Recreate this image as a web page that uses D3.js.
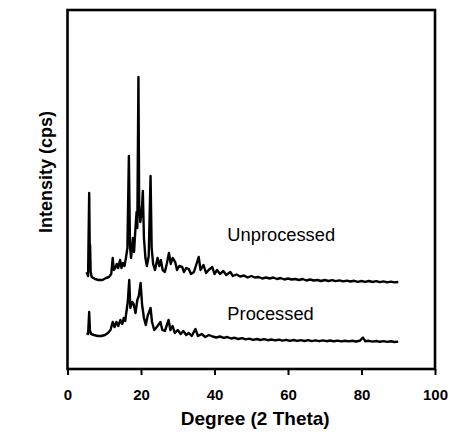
<!DOCTYPE html>
<html>
<head>
<meta charset="utf-8">
<script src="https://cdn.jsdelivr.net/npm/d3@7"></script>
<style>
  html, body { margin: 0; padding: 0; background: #fff; }
  svg { display: block; font-family: "Liberation Sans", Arial, sans-serif; }
</style>
</head>
<body>
<svg id="chart" width="451" height="438"></svg>
<script>
// ---- data (2θ in degrees, intensity in cps, offset traces) ----
const unprocessedTheta = [5.2,5.6,5.9,6.1,6.15,6.3,6.6,7.5,8.5,9.5,10.5,11.3,11.9,12.3,12.6,13.0,13.4,13.8,14.3,14.7,15.1,15.5,15.9,16.3,16.7,17.0,17.3,17.8,18.1,18.5,18.8,19.0,19.3,19.5,19.8,20.2,20.5,20.8,21.2,21.6,22.1,22.6,22.9,23.3,23.8,24.5,25.0,25.4,25.9,26.5,27.0,27.6,28.1,28.6,29.3,29.8,30.4,31.2,31.7,32.3,33.0,33.6,34.4,35.7,36.2,37.0,37.7,38.4,39.4,40.0,40.7,41.5,42.4,43.2,44.3,45,46,47,48,49,50,51,52,53,54,55,56,57,58,59,60,61,62,63,64,65,66,67,68,69,70,71,72,73,74,75,76,77,78,79,80,81,82,83,84,85,86,87,88,89,90];
const unprocessedCps   = [970,930,1760,1010,1240,970,920,900,890,890,910,920,950,1110,990,1010,1050,1010,1090,1010,1060,1030,1110,1210,2130,1230,1110,1310,1170,1410,1570,1410,2920,1640,1470,1570,1780,1310,1110,1030,1130,1930,1210,1050,990,1110,1030,1090,990,970,1050,1160,1050,1110,1070,990,1030,1020,970,1010,1000,950,970,1120,990,1040,960,990,1020,950,990,950,980,940,970,930,945,925,935,915,930,915,920,905,915,905,915,900,910,895,905,895,900,890,900,885,895,885,890,880,890,880,888,878,886,876,884,875,882,872,880,872,880,870,878,868,876,866,874,866,870];

const processedTheta = [5.2,5.6,5.9,6.1,6.4,7.2,8.2,9.2,10.2,11.0,11.7,12.3,12.8,13.3,13.8,14.4,14.9,15.3,15.7,16.1,16.4,16.8,17.1,17.6,18.0,18.5,19.0,19.4,19.9,20.3,20.8,21.3,21.8,22.6,23.0,23.6,24.3,25.3,25.8,26.5,27.5,28.0,28.6,29.2,30.0,30.8,31.5,32.3,33.0,33.8,34.8,35.5,36.5,37.5,38.5,39.5,40.5,41.5,42.5,43.5,44.5,45.5,46.5,47.5,48.5,49.5,50.5,51.5,52.5,53.5,54.5,55.5,56.5,57.5,58.5,59.5,60.5,61.5,62.5,63.5,64.5,65.5,66.5,67.5,68.5,69.5,70.5,71.5,72.5,73.5,74.5,75.5,76.5,77.5,78.5,79.5,80.4,81,82,83,84,85,86,87,88,89,90];
const processedCps   = [360,350,570,390,350,340,330,330,340,360,390,470,420,470,430,490,450,510,480,590,670,890,610,670,650,560,690,730,860,640,510,440,530,610,470,390,420,470,390,380,490,390,430,360,390,350,380,340,360,330,400,330,350,320,340,325,315,325,312,320,305,312,300,308,296,304,292,300,290,298,288,295,286,293,284,292,282,290,281,289,280,288,279,287,278,286,278,285,277,284,276,283,276,282,275,282,315,278,282,274,280,272,279,271,277,270,274];

const xTicks = [0, 20, 40, 60, 80, 100];
const seriesNames = ["Unprocessed", "Processed"];
const labelTheta = [43.5, 43.5];
const labelCps = [1280, 490];

// ---- layout ----
const svg = d3.select("#chart");
const mLeft = 67.5, mRight = 435, mTop = 10, mBottom = 369;

const x = d3.scaleLinear().domain([0, 100]).range([mLeft, mRight]);
const y = d3.scaleLinear().domain([0, 3590]).range([mBottom, mTop]);

const line = d3.line().x(d => x(d[0])).y(d => y(d[1]));

const series = [
  d3.zip(unprocessedTheta, unprocessedCps),
  d3.zip(processedTheta, processedCps)
];

svg.selectAll("path.trace").data(series).join("path")
  .attr("class", "trace")
  .attr("d", line)
  .attr("fill", "none")
  .attr("stroke", "#000")
  .attr("stroke-width", 2.4)
  .attr("stroke-linejoin", "round");

// x axis
const xAxis = d3.axisBottom(x).tickValues(xTicks).tickSize(6).tickPadding(14).tickSizeOuter(0);
const gx = svg.append("g").attr("transform", `translate(0,${mBottom})`).call(xAxis);
gx.select(".domain").remove();
gx.selectAll(".tick line").attr("stroke", "#000").attr("stroke-width", 2);
gx.selectAll(".tick text")
  .attr("fill", "#000")
  .style("font-size", "15px")
  .style("font-weight", "bold")
  .style("font-family", "'Liberation Sans', Arial, sans-serif");

// plot box
svg.append("rect")
  .attr("x", mLeft).attr("y", mTop)
  .attr("width", mRight - mLeft).attr("height", mBottom - mTop)
  .attr("fill", "none").attr("stroke", "#000").attr("stroke-width", 2.6);

// series labels
svg.selectAll("text.series").data(seriesNames).join("text")
  .attr("class", "series")
  .attr("x", (d, i) => x(labelTheta[i]))
  .attr("y", (d, i) => y(labelCps[i]))
  .attr("font-size", 18.3)
  .attr("fill", "#000")
  .text(d => d);

// axis titles
svg.append("text")
  .attr("x", (mLeft + mRight) / 2 + 4).attr("y", 425)
  .attr("text-anchor", "middle")
  .attr("font-size", 19).attr("font-weight", "bold")
  .text("Degree (2 Theta)");

svg.append("text")
  .attr("transform", `translate(52,172) rotate(-90)`)
  .attr("text-anchor", "middle")
  .attr("font-size", 18).attr("font-weight", "bold")
  .text("Intensity (cps)");
</script>
</body>
</html>
